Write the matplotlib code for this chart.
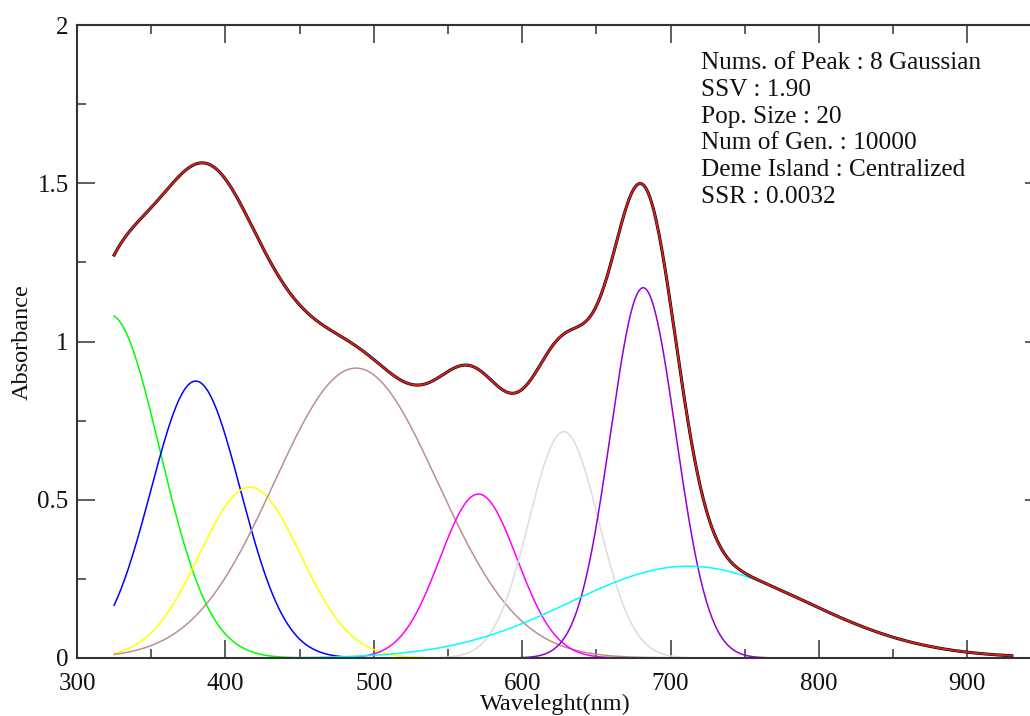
import numpy as np
import matplotlib
matplotlib.use('Agg')
from matplotlib import pyplot as plt
from matplotlib.ticker import MultipleLocator

# fitted Gaussian components
centers = [322, 380, 416.5, 488, 570.5, 628, 681.5, 712]
heights = [1.085, 0.875, 0.54, 0.916, 0.518, 0.715, 1.17, 0.29]
widths = [33.8, 30.2, 34, 55, 26, 23.5, 22, 80]
colors = ['#00ff00', '#0000ff', '#ffff00', '#bc8f8f', '#ff00ff',
          '#dcdcdc', '#9400d3', '#00ffff', ]
wl_start, wl_end = 325, 930

info = ['Nums. of Peak : 8 Gaussian', 'SSV : 1.90', 'Pop. Size : 20',
        'Num of Gen. : 10000', 'Deme Island : Centralized', 'SSR : 0.0032']

plt.rcParams['font.family'] = ['Liberation Serif', 'DejaVu Serif']

wl = np.linspace(wl_start, wl_end, 606)
comps = [h * np.exp(-0.5 * ((wl - c) / w) ** 2) for c, h, w in zip(centers, heights, widths)]
total = np.sum(comps, axis=0)

W, H = 1030, 716
fig = plt.figure(figsize=(W / 100, H / 100), dpi=100)
ax = fig.add_axes([77 / W, 58 / H, 966 / W, 633 / H])

for y, col in zip(comps, colors):
    ax.plot(wl, y, color=col, lw=1.1)
ax.plot(wl, total, color='black', lw=2.2)
ax.plot(wl, total, color='#d42020', lw=1.4)

ax.set_xlim(300, 300 + 966 / 1.484)
ax.set_ylim(0, 2)
ax.xaxis.set_major_locator(MultipleLocator(100))
ax.xaxis.set_minor_locator(MultipleLocator(50))
ax.yaxis.set_major_locator(MultipleLocator(0.5))
ax.yaxis.set_minor_locator(MultipleLocator(0.25))
ax.set_yticks([0, 0.5, 1, 1.5, 2])
ax.set_yticklabels(['0', '0.5', '1', '1.5', '2'])
ax.tick_params(which='both', direction='in', top=True, right=True,
               color='#333333', width=1.1, labelsize=18, labelcolor='#111111')
ax.tick_params(which='major', length=13)
ax.tick_params(which='minor', length=6.5)
ax.tick_params(axis='x', pad=11)
ax.tick_params(axis='y', pad=6)
for s in ax.spines.values():
    s.set_color('#333333')
    s.set_linewidth(1.5)

fig.text(555 / W, 1 - 704 / H, 'Waveleght(nm)', ha='center', va='center', fontsize=17.5, color='#111111')
fig.text(22 / W, 1 - 342 / H, 'Absorbance', ha='center', va='center', rotation=90,
         fontsize=17.5, color='#111111')

for i, line in enumerate(info):
    fig.text(701 / W, 1 - (63 + 26.8 * i) / H, line, ha='left', va='center',
             fontsize=18.2, color='#111111')

fig.savefig('out.png', dpi=100)
